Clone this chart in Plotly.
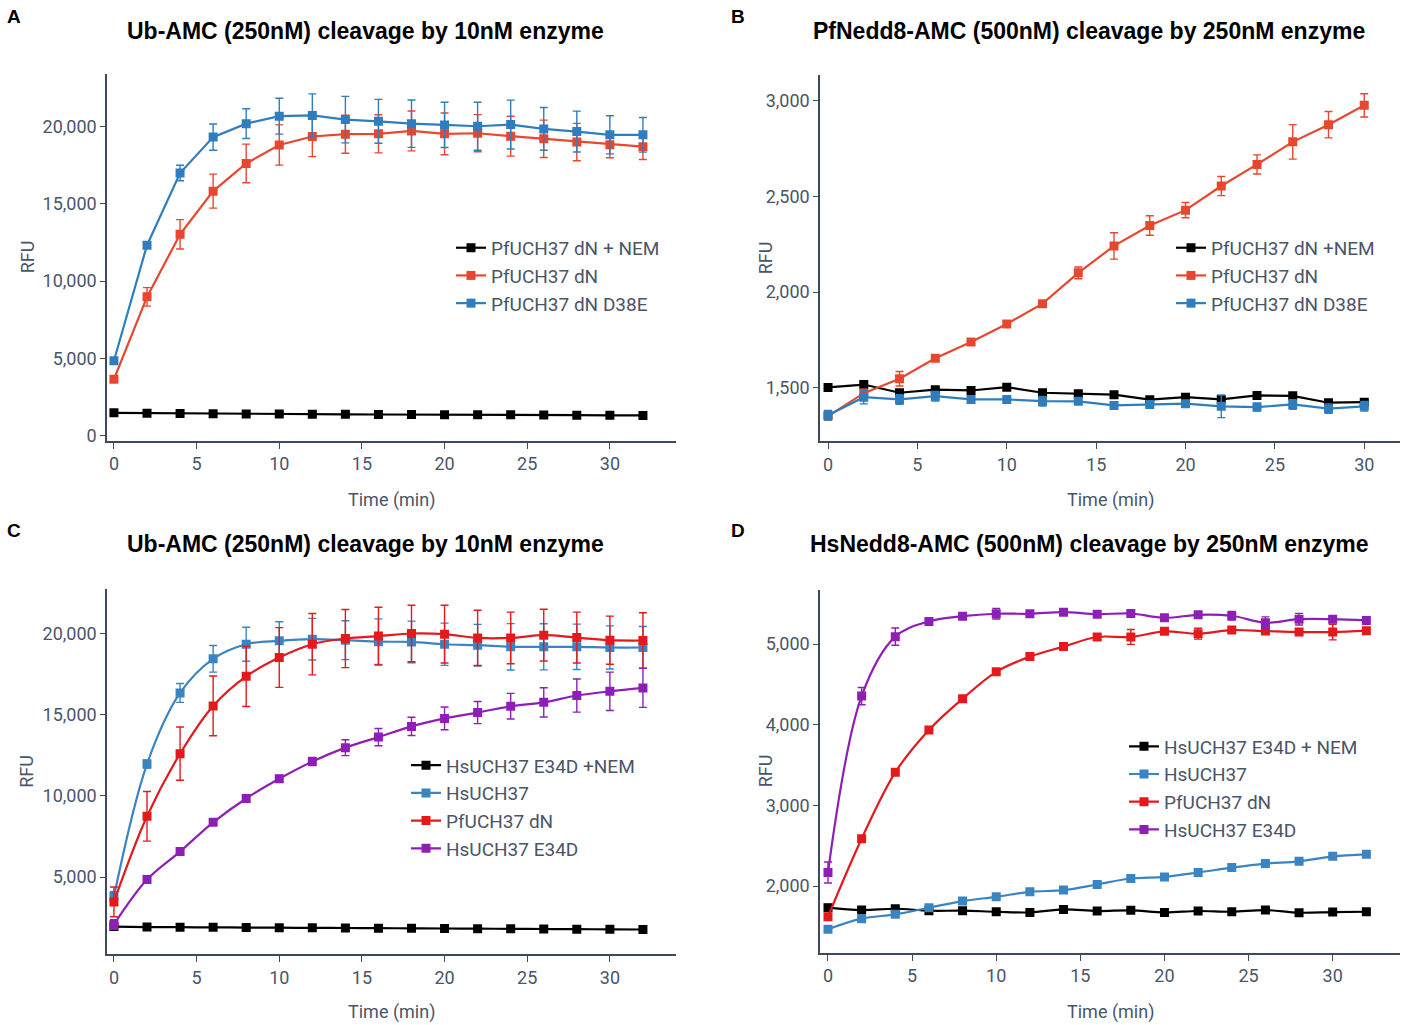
import plotly.graph_objects as go

W, H = 1401, 1025

# ---------------- data ----------------
t_A = list(range(0, 33, 2))
A_nem = [1490, 1470, 1450, 1430, 1420, 1410, 1400, 1390, 1380, 1380, 1370, 1360, 1360, 1350, 1340, 1330, 1320]
A_nem_err = [60] * 17
A_dn = [3660, 8980, 13020, 15810, 17600, 18790, 19340, 19490, 19510, 19700, 19510, 19550, 19360, 19190, 18980, 18810, 18680]
A_dn_err = [200, 600, 950, 1100, 1250, 1300, 1300, 1230, 1230, 1290, 1350, 1200, 1290, 1210, 1210, 840, 830]
A_d38e = [4850, 12320, 16980, 19300, 20170, 20650, 20700, 20430, 20320, 20170, 20090, 20000, 20110, 19830, 19660, 19450, 19450]
A_d38e_err = [150, 200, 500, 850, 960, 1160, 1390, 1500, 1420, 1530, 1460, 1550, 1580, 1380, 1320, 1230, 1120]

t_B = list(range(0, 31, 2))
B_nem = [1502, 1517, 1474, 1490, 1486, 1503, 1474, 1469, 1464, 1438, 1451, 1439, 1460, 1458, 1422, 1425]
B_nem_err = [10, 12, 10, 12, 10, 10, 10, 10, 10, 10, 10, 10, 10, 10, 10, 10]
B_dn = [1352, 1472, 1547, 1654, 1739, 1834, 1940, 2101, 2242, 2349, 2429, 2555, 2668, 2786, 2876, 2977]
B_dn_err = [20, 20, 38, 15, 15, 15, 15, 31, 69, 51, 40, 50, 50, 90, 69, 61]
B_d38e = [1356, 1451, 1439, 1456, 1439, 1439, 1430, 1429, 1408, 1413, 1417, 1403, 1399, 1413, 1391, 1403]
B_d38e_err = [25, 35, 25, 25, 15, 15, 25, 15, 10, 10, 15, 59, 20, 25, 25, 25]

t_C = list(range(0, 33, 2))
C_nem = [1950, 1920, 1910, 1900, 1890, 1880, 1870, 1860, 1850, 1840, 1830, 1820, 1810, 1800, 1790, 1780, 1770]
C_nem_err = [60] * 17
C_hs = [3800, 11960, 16340, 18440, 19340, 19550, 19650, 19590, 19500, 19480, 19340, 19280, 19180, 19180, 19180, 19140, 19140]
C_hs_err = [300, 250, 580, 820, 1050, 1170, 1280, 1200, 1400, 1280, 1300, 1280, 1430, 1420, 1400, 1330, 1290]
C_pf = [3470, 8740, 12600, 15540, 17360, 18520, 19340, 19690, 19840, 20000, 19960, 19730, 19730, 19900, 19750, 19590, 19570]
C_pf_err = [920, 1530, 1640, 1840, 1860, 1840, 1890, 1790, 1780, 1740, 1780, 1700, 1590, 1590, 1570, 1480, 1710]
C_e34d = [2080, 4850, 6570, 8370, 9840, 11050, 12110, 12970, 13620, 14280, 14770, 15130, 15520, 15760, 16180, 16440, 16650]
C_e34d_err = [300, 150, 150, 150, 200, 200, 250, 490, 530, 560, 700, 680, 790, 900, 1020, 1180, 1200]

t_D = list(range(0, 33, 2))
D_nem = [1733, 1704, 1720, 1696, 1696, 1683, 1675, 1712, 1692, 1700, 1675, 1692, 1683, 1704, 1671, 1679, 1683]
D_nem_err = [40, 15, 15, 15, 15, 15, 15, 15, 15, 15, 15, 15, 15, 15, 15, 15, 15]
D_hs = [1466, 1597, 1651, 1733, 1815, 1868, 1930, 1951, 2021, 2095, 2115, 2169, 2230, 2280, 2308, 2370, 2395]
D_hs_err = [15] * 17
D_pf = [1622, 2588, 3410, 3936, 4322, 4655, 4844, 4968, 5087, 5087, 5157, 5128, 5173, 5160, 5148, 5148, 5165]
D_pf_err = [30, 30, 30, 30, 30, 30, 30, 30, 30, 92, 30, 68, 30, 30, 30, 97, 30]
D_e34d = [2169, 4355, 5091, 5280, 5345, 5375, 5375, 5395, 5370, 5378, 5325, 5362, 5350, 5264, 5308, 5308, 5292]
D_e34d_err = [130, 107, 107, 30, 30, 66, 30, 30, 30, 30, 30, 30, 53, 72, 72, 30, 30]

titles = ["Ub-AMC (250nM) cleavage by 10nM enzyme",
          "PfNedd8-AMC (500nM) cleavage by 250nM enzyme",
          "Ub-AMC (250nM) cleavage by 10nM enzyme",
          "HsNedd8-AMC (500nM) cleavage by 250nM enzyme"]
letters = ["A", "B", "C", "D"]

# ---------------- style ----------------
BLACK = "#000000"
RED_A = "#e8472f"
BLUE_A = "#2f7dbd"
RED_C = "#e3191c"
BLUE_C = "#3a84c2"
PURPLE = "#8e1fb6"
AXC = "#3d4a5c"
TXT = "#4a5568"
FONT = "Roboto"


def px_x(p):
    return p / W


def px_y(p):
    return 1 - p / H


fig = go.Figure()


def add(x, y, err, name, color, axis_id, legend, shape="linear"):
    fig.add_trace(go.Scatter(
        x=x, y=y, name=name, mode="lines+markers",
        line=dict(color=color, width=2.2, shape=shape),
        marker=dict(symbol="square", size=9, color=color),
        error_y=dict(type="data", array=err, visible=True, color=color,
                     thickness=1.4, width=4),
        xaxis="x" + ("" if axis_id == 1 else str(axis_id)),
        yaxis="y" + ("" if axis_id == 1 else str(axis_id)),
        legend=legend,
    ))


add(t_A, A_nem, A_nem_err, "PfUCH37 dN + NEM", BLACK, 1, "legend")
add(t_A, A_dn, A_dn_err, "PfUCH37 dN", RED_A, 1, "legend")
add(t_A, A_d38e, A_d38e_err, "PfUCH37 dN D38E", BLUE_A, 1, "legend")

add(t_B, B_nem, B_nem_err, "PfUCH37 dN +NEM", BLACK, 2, "legend2")
add(t_B, B_dn, B_dn_err, "PfUCH37 dN", RED_A, 2, "legend2")
add(t_B, B_d38e, B_d38e_err, "PfUCH37 dN D38E", BLUE_A, 2, "legend2")

add(t_C, C_nem, C_nem_err, "HsUCH37 E34D +NEM", BLACK, 3, "legend3", "spline")
add(t_C, C_hs, C_hs_err, "HsUCH37", BLUE_C, 3, "legend3", "spline")
add(t_C, C_pf, C_pf_err, "PfUCH37 dN", RED_C, 3, "legend3", "spline")
add(t_C, C_e34d, C_e34d_err, "HsUCH37 E34D", PURPLE, 3, "legend3", "spline")

add(t_D, D_nem, D_nem_err, "HsUCH37 E34D + NEM", BLACK, 4, "legend4", "spline")
add(t_D, D_hs, D_hs_err, "HsUCH37", BLUE_C, 4, "legend4", "spline")
add(t_D, D_pf, D_pf_err, "PfUCH37 dN", RED_C, 4, "legend4", "spline")
add(t_D, D_e34d, D_e34d_err, "HsUCH37 E34D", PURPLE, 4, "legend4", "spline")

# panel pixel boxes: (left, right, top, bottom)
boxes = [(107, 676, 74, 443), (820, 1400, 75.5, 443.5), (107, 676, 592, 959), (820, 1400, 592.5, 957.5)]
xranges = [[-0.42, 34.0], [-0.45, 32.0], [-0.42, 34.0], [-0.475, 34.0]]
yranges = [[-320, 23400], [1220, 3135], [240, 22735], [1174, 5674]]
ydticks = [5000, 500, 5000, 1000]
xtitle_off = [59, 59, 58, 59]

layout = dict(
    width=W, height=H,
    margin=dict(l=0, r=0, t=0, b=0),
    paper_bgcolor="white", plot_bgcolor="white",
    font=dict(family=FONT, color=TXT, size=17),
    annotations=[],
)

for i, (l, r, t, b) in enumerate(boxes):
    sfx = "" if i == 0 else str(i + 1)
    layout["xaxis" + sfx] = dict(
        domain=[px_x(l), px_x(r)], range=xranges[i], anchor="y" + sfx,
        dtick=5, tick0=0, showline=True, linecolor=AXC, linewidth=1.5,
        ticks="outside", ticklen=6, tickcolor=AXC, tickwidth=1.3,
        showgrid=False, zeroline=False,
        tickfont=dict(family=FONT, size=18, color=TXT),
    )
    layout["yaxis" + sfx] = dict(
        domain=[px_y(b), px_y(t)], range=yranges[i], anchor="x" + sfx,
        dtick=ydticks[i], tick0=0, tickformat=",", showline=True, linecolor=AXC,
        linewidth=1.5, ticks="outside", ticklen=5, tickcolor=AXC, tickwidth=1.3,
        showgrid=False, zeroline=False,
        tickfont=dict(family=FONT, size=18, color=TXT),
    )
    cx = (l + r) / 2
    # x-axis title
    layout["annotations"].append(dict(
        text="Time (min)", xref="paper", yref="paper",
        x=px_x(cx), y=px_y(b + xtitle_off[i]), xanchor="center", yanchor="middle",
        showarrow=False, font=dict(family=FONT, size=18, color=TXT)))
    # y-axis title
    layout["annotations"].append(dict(
        text="RFU", xref="paper", yref="paper", textangle=-90,
        x=px_x(l - 80 if i % 2 == 0 else l - 55), y=px_y((t + b) / 2),
        xanchor="center", yanchor="middle",
        showarrow=False, font=dict(family=FONT, size=18, color=TXT)))

title_pos = [(365, 31), (1089, 31), (365, 547), (1089, 547)]
letter_pos = [(14, 17), (738, 17), (14, 533), (738, 533)]
for i in range(4):
    layout["annotations"].append(dict(
        text="<b>" + titles[i] + "</b>", xref="paper", yref="paper",
        x=px_x(title_pos[i][0]), y=px_y(title_pos[i][1]),
        xanchor="center", yanchor="middle", showarrow=False,
        font=dict(family="Liberation Sans", size=23, color="#000000")))
    layout["annotations"].append(dict(
        text="<b>" + letters[i] + "</b>", xref="paper", yref="paper",
        x=px_x(letter_pos[i][0]), y=px_y(letter_pos[i][1]),
        xanchor="center", yanchor="middle", showarrow=False,
        font=dict(family="Liberation Sans", size=19, color="#000000")))

leg_pos = [(451, 230), (1171, 230), (406, 750), (1124, 731)]
for i, (lx, ly) in enumerate(leg_pos):
    key = "legend" if i == 0 else "legend" + str(i + 1)
    layout[key] = dict(
        x=px_x(lx), y=px_y(ly), xanchor="left", yanchor="top",
        xref="paper", yref="paper", bgcolor="rgba(0,0,0,0)", borderwidth=0,
        font=dict(family=FONT, size=19, color=TXT), tracegroupgap=0,
        itemwidth=30,
    )

fig.update_layout(**layout)
fig.write_html("out.html",
               config={"displayModeBar": False},
               post_script="document.body.style.margin='0';document.body.style.overflow='hidden';")
